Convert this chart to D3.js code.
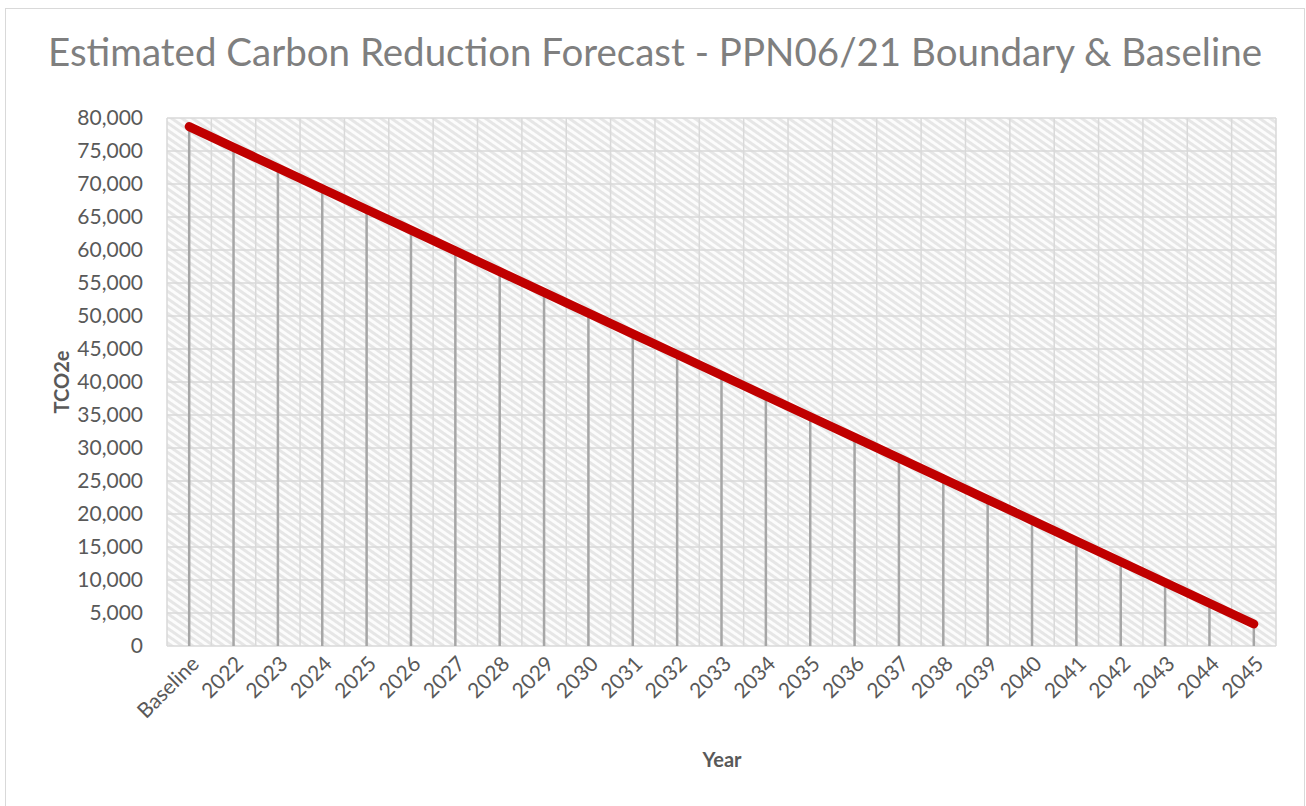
<!DOCTYPE html>
<html>
<head>
<meta charset="utf-8">
<script src="https://cdn.jsdelivr.net/npm/d3@7"></script>
<style>
  body { margin: 0; background: #fff; }
  svg text { font-family: Lato, "Open Sans", sans-serif; }
</style>
</head>
<body>
<div id="chart"></div>
<script>
// chart data
const years = ['Baseline', '2022', '2023', '2024', '2025', '2026', '2027', '2028', '2029', '2030',
  '2031', '2032', '2033', '2034', '2035', '2036', '2037', '2038', '2039', '2040',
  '2041', '2042', '2043', '2044', '2045']
const emissions = [78700, 75560, 72420, 69280, 66140, 63000, 59860, 56720, 53580, 50440,
  47300, 44160, 41020, 37880, 34740, 31600, 28460, 25320, 22180, 19040,
  15900, 12760, 9620, 6480, 3340]
const yTicks = [0, 5000, 10000, 15000, 20000, 25000, 30000, 35000, 40000,
  45000, 50000, 55000, 60000, 65000, 70000, 75000, 80000]
const chartTitle = 'Estimated Carbon Reduction Forecast - PPN06/21 Boundary & Baseline'

const W = 1306, H = 806
const plot = { left: 167, right: 1276, top: 118, bottom: 646 }

const svg = d3.select('#chart').append('svg')
  .attr('width', W).attr('height', H)

// outer chart border
svg.append('rect')
  .attr('x', 5.5).attr('y', 8.5)
  .attr('width', W - 7).attr('height', H - 6)
  .attr('fill', '#fff').attr('stroke', '#d9d9d9')

// hatched plot background
const defs = svg.append('defs')
const pat = defs.append('pattern')
  .attr('id', 'hatch')
  .attr('patternUnits', 'userSpaceOnUse')
  .attr('width', 6).attr('height', 6)
  .attr('patternTransform', 'rotate(35)')
pat.append('rect').attr('width', 6).attr('height', 6).attr('fill', '#e6e6e6')
pat.append('rect').attr('width', 6).attr('height', 3).attr('fill', '#fcfcfc')

const x = d3.scaleBand()
  .domain(years)
  .range([plot.left, plot.right])

const y = d3.scaleLinear()
  .domain([0, 80000])
  .range([plot.bottom, plot.top])

svg.append('rect')
  .attr('x', plot.left).attr('y', plot.top)
  .attr('width', plot.right - plot.left)
  .attr('height', plot.bottom - plot.top)
  .attr('fill', 'url(#hatch)')

// gridlines
svg.append('g')
  .selectAll('line')
  .data(yTicks)
  .join('line')
  .attr('x1', plot.left).attr('x2', plot.right)
  .attr('y1', d => y(d)).attr('y2', d => y(d))
  .attr('stroke', '#d9d9d9').attr('stroke-width', 1.5)

svg.append('g')
  .selectAll('line')
  .data(years.concat(['end']))
  .join('line')
  .attr('x1', (d, i) => plot.left + i * x.step())
  .attr('x2', (d, i) => plot.left + i * x.step())
  .attr('y1', plot.top).attr('y2', plot.bottom)
  .attr('stroke', '#d9d9d9').attr('stroke-width', 1.5)

// y axis
svg.append('g')
  .attr('transform', `translate(${plot.left},0)`)
  .call(d3.axisLeft(y).tickValues(yTicks).tickSize(0).tickPadding(24)
    .tickFormat(d3.format(',')))
  .call(g => g.select('.domain').remove())
  .selectAll('text')
    .style('font-size', '21px')
    .style('fill', '#595959')

// x axis
svg.append('g')
  .attr('transform', `translate(0,${plot.bottom})`)
  .call(d3.axisBottom(x).tickSize(0))
  .call(g => g.select('.domain').remove())
  .selectAll('text')
    .attr('text-anchor', 'end')
    .attr('dy', 0)
    .attr('transform', 'translate(9,17) rotate(-45)')
    .style('font-size', '21px')
    .style('fill', '#595959')

// drop lines
svg.append('g')
  .selectAll('line')
  .data(emissions)
  .join('line')
  .attr('x1', (d, i) => x(years[i]) + x.bandwidth() / 2)
  .attr('x2', (d, i) => x(years[i]) + x.bandwidth() / 2)
  .attr('y1', d => y(d))
  .attr('y2', y(0))
  .attr('stroke', '#a6a6a6').attr('stroke-width', 2.5)

// red forecast line
const line = d3.line()
  .x((d, i) => x(years[i]) + x.bandwidth() / 2)
  .y(d => y(d))

svg.append('path')
  .datum(emissions)
  .attr('d', line)
  .attr('fill', 'none')
  .attr('stroke', '#c00000')
  .attr('stroke-width', 9)
  .attr('stroke-linecap', 'round')
  .attr('stroke-linejoin', 'round')

// title and axis titles
svg.append('text')
  .attr('x', 48).attr('y', 66)
  .attr('textLength', 1214)
  .attr('lengthAdjust', 'spacingAndGlyphs')
  .style('font-size', '38px')
  .style('fill', '#7f7f7f')
  .text(chartTitle)

svg.append('text')
  .attr('transform', `translate(69,${(plot.top + plot.bottom) / 2}) rotate(-90)`)
  .attr('text-anchor', 'middle')
  .style('font-size', '20px')
  .style('font-weight', 'bold')
  .style('fill', '#595959')
  .text('TCO2e')

svg.append('text')
  .attr('x', 722).attr('y', 767)
  .attr('text-anchor', 'middle')
  .style('font-size', '20px')
  .style('font-weight', 'bold')
  .style('fill', '#595959')
  .text('Year')
</script>
</body>
</html>
